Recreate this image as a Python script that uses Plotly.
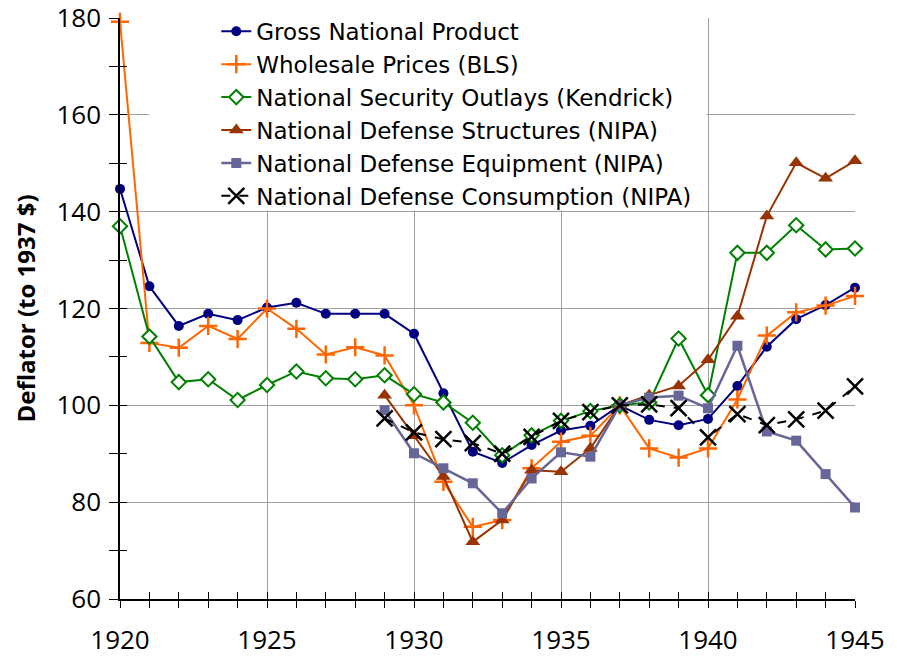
import plotly.graph_objects as go

years_all = list(range(1920, 1946))
years_nipa = list(range(1929, 1946))

gnp = [144.7, 124.6, 116.4, 118.9, 117.6, 120.2, 121.2, 118.9, 118.9, 118.9,
       114.8, 102.5, 90.4, 88.1, 91.8, 94.8, 95.8, 100.0, 97.0, 95.9,
       97.2, 104.0, 112.1, 117.8, 120.7, 124.3]
wpi = [179.2, 112.9, 111.9, 116.4, 113.7, 120.0, 115.8, 110.5, 112.0, 110.3,
       100.0, 84.2, 74.9, 76.3, 87.0, 92.5, 93.7, 100.0, 91.1, 89.2,
       91.1, 101.2, 114.4, 119.2, 120.6, 122.6]
nso = [137.0, 114.2, 104.8, 105.4, 101.1, 104.2, 107.0, 105.6, 105.4, 106.2,
       102.3, 100.6, 96.4, 89.7, 93.8, 96.8, 98.8, 100.0, 100.6, 113.8,
       102.1, 131.5, 131.5, 137.2, 132.2, 132.4]
structures = [102.1, 93.7, 85.3, 71.8, 76.3, 86.6, 86.3, 91.1, 100.0, 102.1,
              104.0, 109.4, 118.4, 139.1, 150.1, 146.9, 150.5]
equipment = [99.0, 90.1, 87.0, 83.9, 77.7, 84.9, 90.3, 89.4, 100.0, 101.6,
             102.0, 99.4, 112.3, 94.6, 92.7, 85.8, 78.9]
consumption = [97.3, 94.4, 93.0, 92.2, 90.0, 93.5, 96.8, 98.6, 100.0, 100.2,
               99.4, 93.4, 98.2, 95.9, 97.1, 98.9, 103.9]

names = ["Gross National Product", "Wholesale Prices (BLS)",
         "National Security Outlays (Kendrick)", "National Defense Structures (NIPA)",
         "National Defense Equipment (NIPA)", "National Defense Consumption (NIPA)"]

x_ticks = [1920, 1925, 1930, 1935, 1940, 1945]
y_ticks = [60, 80, 100, 120, 140, 160, 180]

FONT = "'Open Sans', Lato, sans-serif"
LEG_FONT = "'DejaVu Sans', 'Open Sans', sans-serif"

fig = go.Figure()
fig.add_trace(go.Scatter(x=years_all, y=gnp, name=names[0], mode="lines+markers",
                         line=dict(color="#000080", width=2),
                         marker=dict(symbol="circle", size=10, color="#000080"),
                         cliponaxis=False))
fig.add_trace(go.Scatter(x=years_all, y=wpi, name=names[1], mode="lines+markers",
                         line=dict(color="#FF6600", width=2),
                         marker=dict(symbol="cross-thin-open", size=13,
                                     line=dict(color="#FF6600", width=2.5)),
                         cliponaxis=False))
fig.add_trace(go.Scatter(x=years_all, y=nso, name=names[2], mode="lines+markers",
                         line=dict(color="#008000", width=2),
                         marker=dict(symbol="diamond", size=11, color="white",
                                     line=dict(color="#008000", width=2)),
                         cliponaxis=False))
fig.add_trace(go.Scatter(x=years_nipa, y=structures, name=names[3], mode="lines+markers",
                         line=dict(color="#993300", width=2),
                         marker=dict(symbol="triangle-up", size=13, color="#993300"),
                         cliponaxis=False))
fig.add_trace(go.Scatter(x=years_nipa, y=equipment, name=names[4], mode="lines+markers",
                         line=dict(color="#666699", width=2.5),
                         marker=dict(symbol="square", size=10, color="#666699"),
                         cliponaxis=False))
fig.add_trace(go.Scatter(x=years_nipa, y=consumption, name=names[5], mode="lines+markers",
                         line=dict(color="black", width=2, dash="dash"),
                         marker=dict(symbol="x-thin-open", size=16,
                                     line=dict(color="black", width=2.5)),
                         cliponaxis=False))
# dummy trace for overlay axes (inside ticks)
fig.add_trace(go.Scatter(x=[None], y=[None], xaxis="x2", yaxis="y2",
                         showlegend=False, hoverinfo="skip"))

fig.add_shape(type="rect", xref="x", yref="y", x0=1920.99, x1=1939.95,
              y0=140.3, y1=181, fillcolor="white", line=dict(width=0), layer="above")

fig.update_layout(
    width=897, height=658,
    margin=dict(l=120, r=42, t=18, b=59, autoexpand=False),
    paper_bgcolor="white", plot_bgcolor="white",
    font=dict(family=FONT, size=26, color="black"),
    showlegend=True,
    legend=dict(x=0.131, y=1.014, xanchor="left", yanchor="top",
                bgcolor="rgba(0,0,0,0)", borderwidth=0,
                font=dict(family=LEG_FONT, size=23, color="black"),
                traceorder="normal"),
    xaxis=dict(range=[1920, 1945], tickvals=x_ticks, showgrid=True,
               gridcolor="#A0A0A0", gridwidth=1, zeroline=False, automargin=False,
               showline=True, linecolor="black", linewidth=1.5,
               ticks="outside", ticklen=7, tickcolor="black",
               ticklabelstandoff=10, ticklabeloverflow="allow",
               minor=dict(dtick=1, ticks="outside", ticklen=7, tickcolor="black",
                          showgrid=False),
               tickfont=dict(family=FONT, size=26)),
    yaxis=dict(range=[60, 180], tickvals=y_ticks, showgrid=True,
               gridcolor="#A0A0A0", gridwidth=1, zeroline=False, automargin=False,
               showline=True, linecolor="black", linewidth=1.5,
               ticks="outside", ticklen=9, tickcolor="black",
               ticklabelstandoff=3, ticklabeloverflow="allow",
               minor=dict(dtick=10, ticks="outside", ticklen=9, tickcolor="black",
                          showgrid=False),
               tickfont=dict(family=FONT, size=26),
               title=dict(text="<b>Deflator (to 1937 $)</b>", standoff=14,
                          font=dict(family=FONT, size=24))),
    xaxis2=dict(range=[1920, 1945], overlaying="x", anchor="y2", side="bottom",
                dtick=1, tick0=1920, ticks="inside", ticklen=7, tickcolor="black",
                showticklabels=False, showgrid=False, zeroline=False,
                showline=False, automargin=False),
    yaxis2=dict(range=[60, 180], overlaying="y", anchor="x2", side="left",
                dtick=10, tick0=60, ticks="inside", ticklen=7, tickcolor="black",
                showticklabels=False, showgrid=False, zeroline=False,
                showline=False, automargin=False),
)

fig.write_html("out.html", config={"displayModeBar": False},
               post_script="document.body.style.margin='0';document.body.style.overflow='hidden';")
